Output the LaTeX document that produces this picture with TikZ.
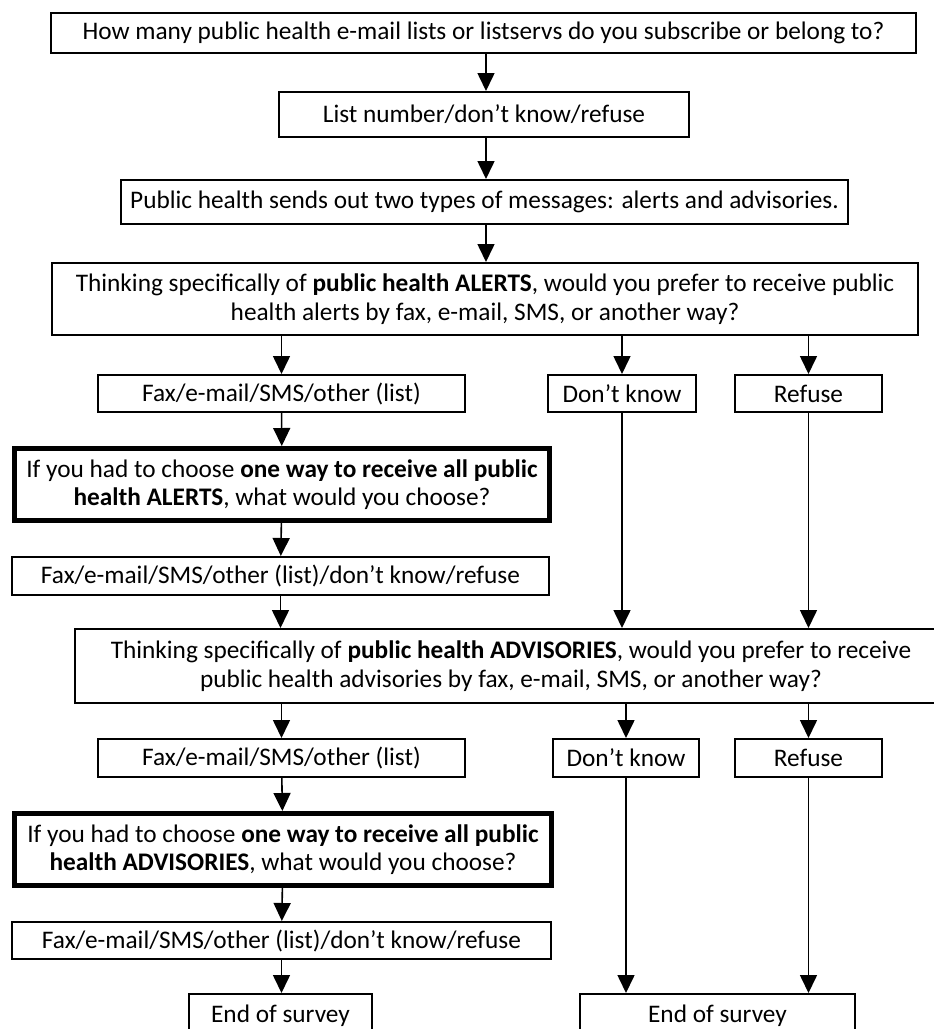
\documentclass[tikz,border=0pt]{standalone}
\usepackage{fontspec}
\setmainfont{Carlito}
\usetikzlibrary{arrows.meta}

\begin{document}
\begin{tikzpicture}[x=1pt,y=-1pt,
    every node/.style={font=\fontsize{25.3}{28.5}\selectfont},
    box/.style={rectangle,draw,line width=2pt,inner sep=0pt,align=center},
    keybox/.style={box,line width=5pt},
    arrow/.style={-{Triangle[length=18pt,width=17pt]},line width=1.6pt}
]
\useasboundingbox (0,0) rectangle (934,1029);
\clip (0,0) rectangle (934,1029);

% Opening questions
\node[box,minimum width=865pt,minimum height=40pt] (howmany) at (483.5,33) {How many public health e-mail lists or listservs do you subscribe or belong to?};
\node[box,minimum width=410pt,minimum height=45pt] (number) at (484,114.5) {List number/don’t know/refuse};
\node[box,minimum width=727pt,minimum height=44pt] (types) at (484.5,202) {Public health sends out two types of messages: alerts and advisories.};

% Alerts block
\node[box,minimum width=866pt,minimum height=72pt] (alerts) at (485,299) {Thinking specifically of \textbf{public health ALERTS}, would you prefer to receive public\\health alerts by fax, e-mail, SMS, or another way?};
\node[box,minimum width=367pt,minimum height=37pt] (listA) at (281.5,393.5) {Fax/e-mail/SMS/other (list)};
\node[box,minimum width=148pt,minimum height=37pt] (dkA) at (622,393.5) {Don’t know};
\node[box,minimum width=147pt,minimum height=37pt] (refA) at (808.5,393.5) {Refuse};
\node[keybox,minimum width=535pt,minimum height=72pt] (oneA) at (282,484.5) {If you had to choose \textbf{one way to receive all public}\\\textbf{health ALERTS}, what would you choose?};
\node[box,minimum width=537pt,minimum height=38pt] (ansA) at (280.5,576) {Fax/e-mail/SMS/other (list)/don’t know/refuse};

% Advisories block
\node[box,minimum width=872pt,minimum height=74pt] (advis) at (511,666) {Thinking specifically of \textbf{public health ADVISORIES}, would you prefer to receive\\public health advisories by fax, e-mail, SMS, or another way?};
\node[box,minimum width=367pt,minimum height=38pt] (listB) at (281.5,758) {Fax/e-mail/SMS/other (list)};
\node[box,minimum width=146pt,minimum height=38pt] (dkB) at (626,758) {Don’t know};
\node[box,minimum width=147pt,minimum height=38pt] (refB) at (808.5,758) {Refuse};
\node[keybox,minimum width=537pt,minimum height=72pt] (oneB) at (283,849.5) {If you had to choose \textbf{one way to receive all public}\\\textbf{health ADVISORIES}, what would you choose?};
\node[box,minimum width=539pt,minimum height=37pt] (ansB) at (281.5,940.5) {Fax/e-mail/SMS/other (list)/don’t know/refuse};

% End points
\node[box,minimum width=183pt,minimum height=44pt] (endA) at (280.5,1016) {End of survey};
\node[box,minimum width=275pt,minimum height=44pt] (endB) at (717.5,1016) {End of survey};

% Main chain
\draw[arrow] (howmany.south -| 486,0) -- (number.north -| 486,0);
\draw[arrow] (number.south -| 486,0) -- (types.north -| 486,0);
\draw[arrow] (types.south -| 486,0) -- (alerts.north -| 486,0);

% Alerts branches
\draw[arrow] (alerts.south -| listA) -- (listA);
\draw[arrow] (alerts.south -| dkA) -- (dkA);
\draw[arrow] (alerts.south -| refA) -- (refA);
\draw[arrow] (listA) -- (oneA);
\draw[arrow] (oneA) -- (ansA);
\draw[arrow] (ansA) -- (ansA |- advis.north);
\draw[arrow] (dkA) -- (dkA |- advis.north);
\draw[arrow] (refA) -- (refA |- advis.north);

% Advisories branches
\draw[arrow] (advis.south -| listB) -- (listB);
\draw[arrow] (advis.south -| dkB) -- (dkB);
\draw[arrow] (advis.south -| refB) -- (refB);
\draw[arrow] (listB) -- (oneB);
\draw[arrow] (oneB) -- (ansB);
\draw[arrow] (ansB) -- (ansB |- endA.north);
\draw[arrow] (dkB) -- (dkB |- endB.north);
\draw[arrow] (refB) -- (refB |- endB.north);

\end{tikzpicture}
\end{document}
